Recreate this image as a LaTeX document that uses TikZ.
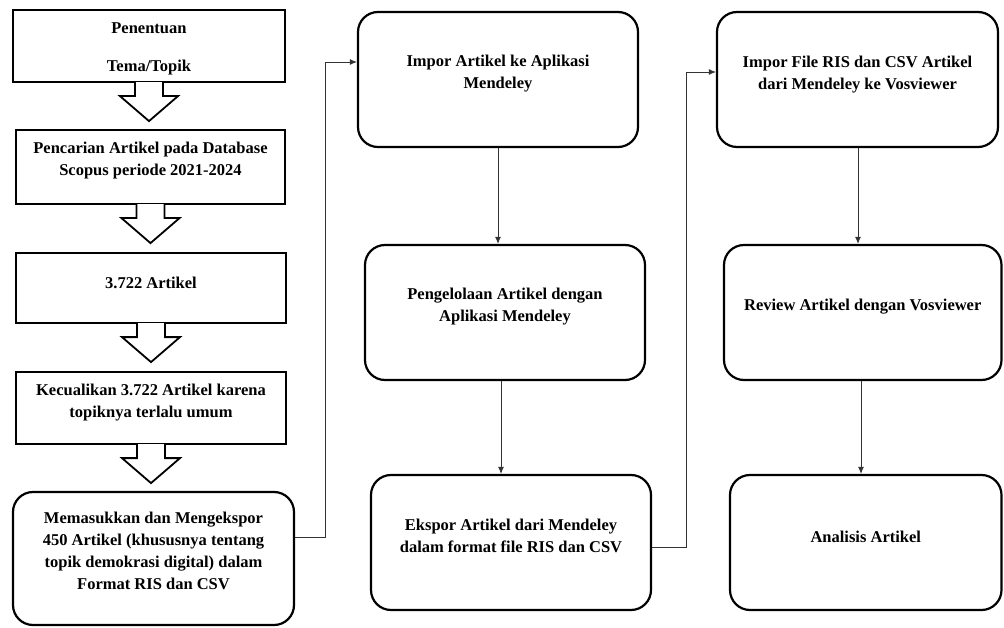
\documentclass[tikz,border=0pt]{standalone}
\usepackage{fontspec}
\setmainfont{Liberation Serif}
\usetikzlibrary{arrows.meta,calc}
\newcommand\liftedtext[2]{\raisebox{#1}[0pt][0pt]{\begin{tabular}{@{}c@{}}#2\end{tabular}}}
\newcommand\blockdown[1]{\draw[blockarrow] ($(#1.south)+(-14,-1)$) -- ++(0,14) -- ++(-15,0) -- ++(29,25) -- ++(29,-25) -- ++(-15,0) -- ++(0,-14);}
\begin{document}
\begin{tikzpicture}[x=1pt,y=-1pt,
  sqbox/.style={draw, line width=2.2pt, rectangle, inner sep=0pt, font=\fontsize{16.5}{22}\selectfont\bfseries},
  rbox/.style={sqbox, rounded corners=20pt},
  link/.style={line width=0.9pt, draw=black!80, -{Latex[length=7pt,width=6pt]}},
  blockarrow/.style={draw, line width=1.8pt, fill=white, line join=miter}]
\useasboundingbox[fill=white] (0,0) rectangle (1004,628);
% left column
\node[sqbox, minimum width=272pt, minimum height=72pt] (b1) at (149,46) {\liftedtext{-6pt}{Penentuan\\[16pt]Tema/Topik}};
\node[sqbox, minimum width=269pt, minimum height=74pt] (b2) at (150.5,167) {\liftedtext{3pt}{Pencarian Artikel pada Database\\Scopus periode 2021-2024}};
\node[sqbox, minimum width=270pt, minimum height=70pt] (b3) at (151,288) {\liftedtext{0pt}{3.722 Artikel}};
\node[sqbox, minimum width=270pt, minimum height=72pt] (b4) at (151,408) {\liftedtext{2pt}{Kecualikan 3.722 Artikel karena\\topiknya terlalu umum}};
\node[rbox, minimum width=281pt, minimum height=133pt] (b5) at (153.5,558.5) {\liftedtext{2pt}{Memasukkan dan Mengekspor\\450 Artikel (khususnya tentang\\topik demokrasi digital) dalam\\Format RIS dan CSV}};
% middle column
\node[rbox, minimum width=280pt, minimum height=135pt] (b6) at (498,79.5) {\liftedtext{2pt}{Impor Artikel ke Aplikasi\\Mendeley}};
\node[rbox, minimum width=280pt, minimum height=135pt] (b7) at (505,312.5) {\liftedtext{2.5pt}{Pengelolaan Artikel dengan\\Aplikasi Mendeley}};
\node[rbox, minimum width=280pt, minimum height=135pt] (b8) at (511,542.5) {\liftedtext{1.5pt}{Ekspor Artikel dari Mendeley\\dalam format file RIS dan CSV}};
% right column
\node[rbox, minimum width=281pt, minimum height=135pt] (b9) at (857.5,79.5) {\liftedtext{1.5pt}{Impor File RIS dan CSV Artikel\\dari Mendeley ke Vosviewer}};
\node[rbox, minimum width=277.5pt, minimum height=135pt] (b10) at (862.75,312.5) {\liftedtext{2.5pt}{Review Artikel dengan Vosviewer}};
\node[rbox, minimum width=271.5pt, minimum height=135pt] (b11) at (865.75,542.5) {\liftedtext{0.5pt}{Analisis Artikel}};
% block arrows
\blockdown{b1}
\blockdown{b2}
\blockdown{b3}
\blockdown{b4}
% connectors
\coordinate (m1) at (498,0);
\coordinate (m2) at (501,0);
\coordinate (r1) at (858,0);
\coordinate (r2) at (861,0);
\draw[link] (b6.south -| m1) -- (m1 |- b7.north);
\draw[link] (b7.south -| m2) -- (m2 |- b8.north);
\draw[link] (b9.south -| r1) -- (r1 |- b10.north);
\draw[link] (b10.south -| r2) -- (r2 |- b11.north);
\coordinate (j1) at (325,537);
\coordinate (j1t) at (325,62);
\draw[link] (b5.east |- j1) -- (j1) -- (j1t) -- (b6.west |- j1t);
\coordinate (j2) at (686,547);
\coordinate (j2t) at (686,72);
\draw[link] (b8.east |- j2) -- (j2) -- (j2t) -- (b9.west |- j2t);
\end{tikzpicture}
\end{document}
